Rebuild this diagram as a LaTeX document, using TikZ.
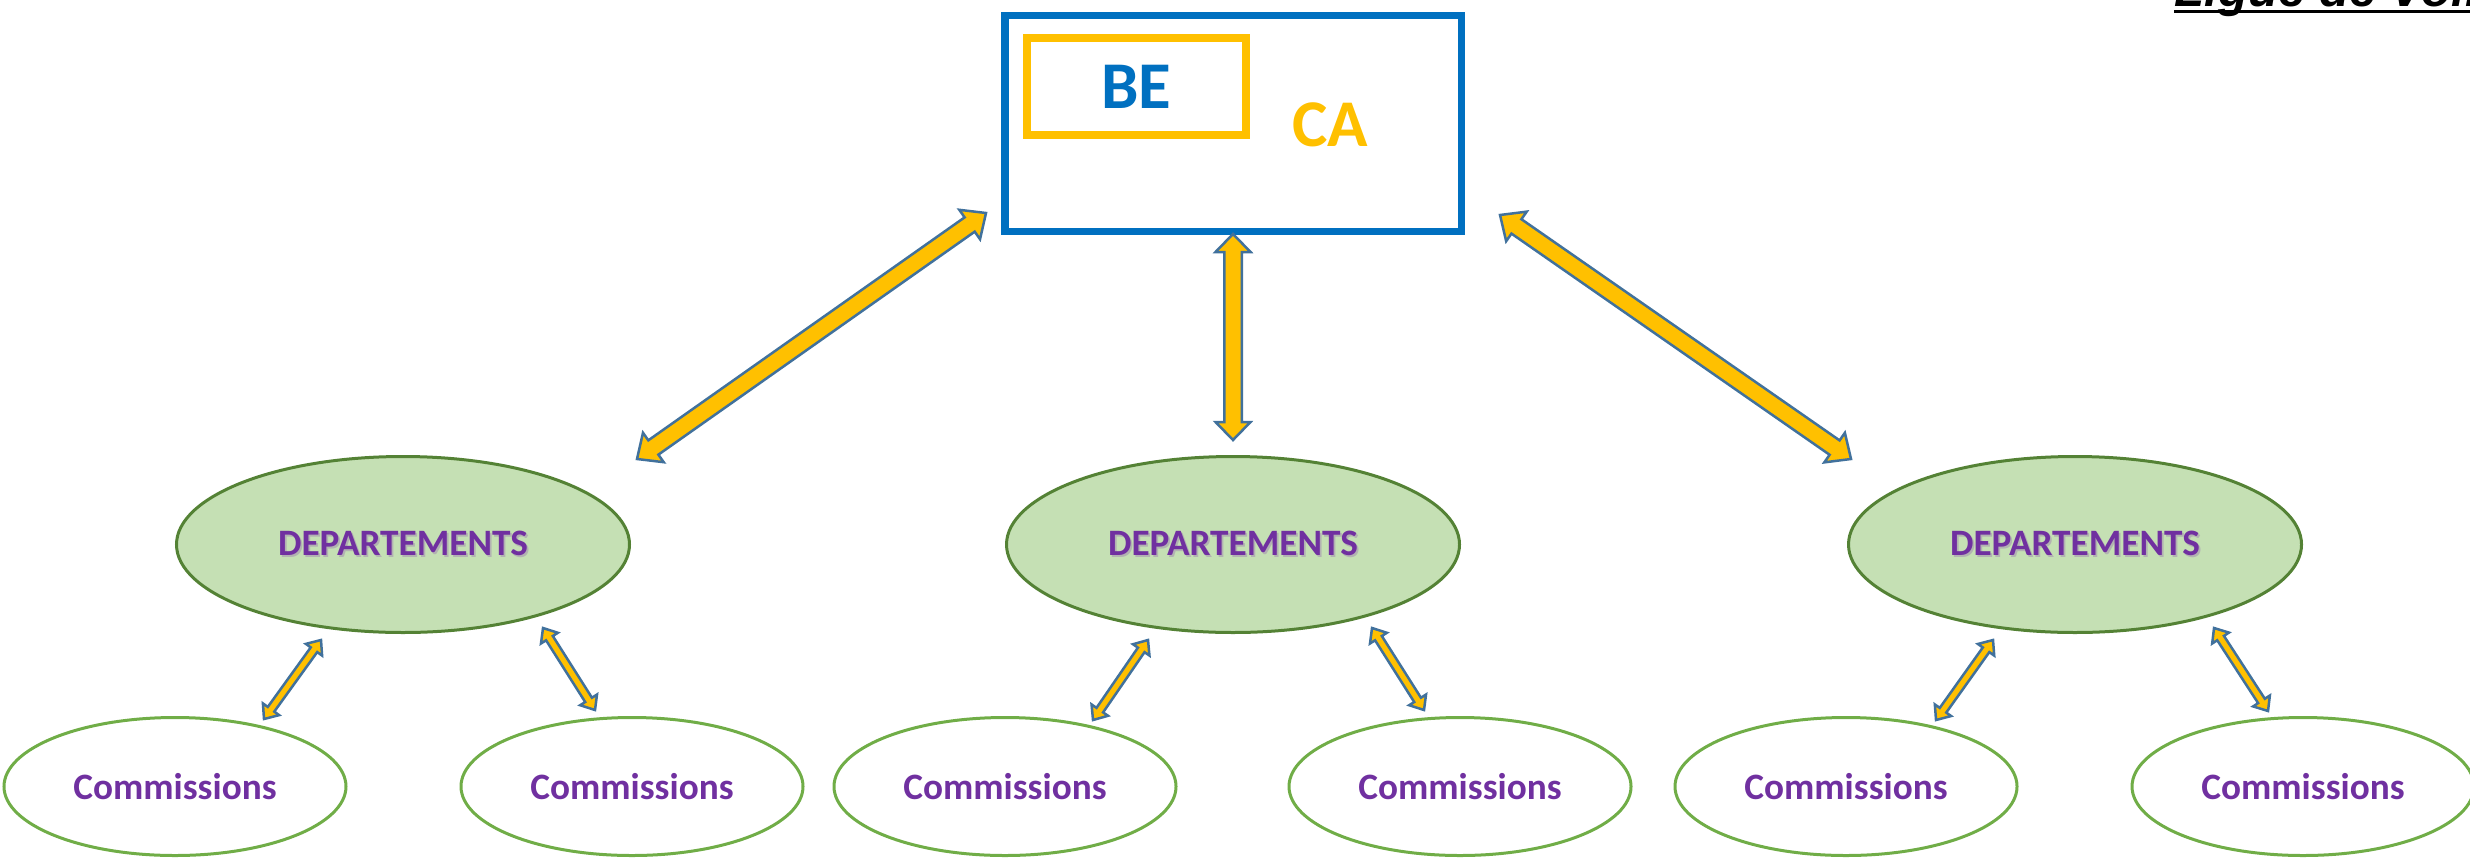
\documentclass[tikz,border=0pt]{standalone}
\usepackage{fontspec}
\setmainfont{Carlito}
\newfontfamily\titrefont{Liberation Sans}
\usetikzlibrary{shapes,calc}

\definecolor{bleuca}{HTML}{0070C0}
\definecolor{jaune}{HTML}{FFC000}
\definecolor{contour}{HTML}{41719C}
\definecolor{vertclair}{HTML}{C5E0B4}
\definecolor{vertfonce}{HTML}{548235}
\definecolor{vertcom}{HTML}{70AD47}
\definecolor{violet}{HTML}{7030A0}

% texte avec ombre grise
\newcommand{\ombre}[1]{\leavevmode\rlap{\kern0.5pt\raisebox{-0.5pt}{\textcolor{black!30}{#1}}}#1}

% double fleche pleine : depart, arrivee, demi-largeur tige, demi-largeur tete, longueur tete
\newcommand{\fleche}[5]{%
  \coordinate (fA) at ($(#1)!#5!(#2)$);
  \coordinate (fB) at ($(#2)!#5!(#1)$);
  \filldraw[fleche] (#1)
    -- ($(fA)!#4!90:(#2)$) -- ($(fA)!#3!90:(#2)$)
    -- ($(fB)!#3!-90:(#1)$) -- ($(fB)!#4!-90:(#1)$)
    -- (#2)
    -- ($(fB)!#4!90:(#1)$) -- ($(fB)!#3!90:(#1)$)
    -- ($(fA)!#3!-90:(#2)$) -- ($(fA)!#4!-90:(#2)$) -- cycle;}

\begin{document}
\begin{tikzpicture}[x=1mm,y=1mm,node distance=42.1mm,
  ca node/.style={rectangle,draw=bleuca,line width=0.75mm,minimum width=45.65mm,minimum height=21.55mm,inner sep=0},
  be node/.style={rectangle,draw=jaune,line width=0.8mm,minimum width=21.9mm,minimum height=9.7mm,inner sep=0,text=bleuca,font=\fontsize{19}{22}\selectfont\bfseries},
  dep node/.style={ellipse,draw=vertfonce,fill=vertclair,line width=0.3mm,minimum width=45.3mm,minimum height=17.6mm,inner sep=0,text=violet,font=\fontsize{10.6}{12}\selectfont\bfseries},
  com node/.style={ellipse,draw=vertcom,line width=0.3mm,minimum width=34.2mm,minimum height=13.8mm,inner sep=0,text=violet,font=\fontsize{10.6}{12}\selectfont\bfseries},
  fleche/.style={fill=jaune,draw=contour,line width=0.25mm,line join=miter}]

  \useasboundingbox (0,0) rectangle (247,-85.8);

  % titre coupe en haut
  \node[anchor=base west,inner sep=0,font=\titrefont\fontsize{14}{16}\selectfont\bfseries\itshape] (titre) at (217.4,-0.7) {Ligue de Volleyball};
  \draw[line width=0.3mm] ([yshift=-0.5mm]titre.base west) -- ([yshift=-0.5mm]titre.base east);

  % CA et BE
  \node[ca node] (ca) at (123.3,-12.35) {};
  \node[be node] (be) at (113.65,-8.65) {BE};
  \node[text=jaune,inner sep=0,font=\fontsize{19}{22}\selectfont\bfseries] (catxt) at (133.0,-12.5) {CA};

  % departements
  \node[dep node] (d2) [below of=ca] {\ombre{DEPARTEMENTS}};
  \node[dep node] (d1) [left of=d2,node distance=83mm] {\ombre{DEPARTEMENTS}};
  \node[dep node] (d3) [right of=d2,node distance=84.2mm] {\ombre{DEPARTEMENTS}};

  % commissions
  \node[com node] (c1) [below of=d1,node distance=24.2mm,xshift=-22.8mm] {Commissions};
  \node[com node] (c2) [below of=d1,node distance=24.2mm,xshift=22.9mm] {Commissions};
  \node[com node] (c3) [below of=d2,node distance=24.2mm,xshift=-22.8mm] {Commissions};
  \node[com node] (c4) [below of=d2,node distance=24.2mm,xshift=22.7mm] {Commissions};
  \node[com node] (c5) [below of=d3,node distance=24.2mm,xshift=-22.9mm] {Commissions};
  \node[com node] (c6) [below of=d3,node distance=24.2mm,xshift=22.8mm] {Commissions};

  % bouts des fleches
  \coordinate (h1) at (98.6,-21.3);   \coordinate (b1) at (63.7,-45.9);
  \coordinate (h2) at (123.3,-23.4);  \coordinate (b2) at (123.3,-44.0);
  \coordinate (h3) at (150.0,-21.5);  \coordinate (b3) at (185.1,-45.9);
  \coordinate (s1) at (32.1,-64.0);   \coordinate (t1) at (26.4,-71.9);
  \coordinate (s2) at (54.3,-62.8);   \coordinate (t2) at (59.5,-71.0);
  \coordinate (s3) at (114.8,-64.0);  \coordinate (t3) at (109.3,-72.0);
  \coordinate (s4) at (137.2,-62.8);  \coordinate (t4) at (142.4,-71.0);
  \coordinate (s5) at (199.3,-64.0);  \coordinate (t5) at (193.6,-72.0);
  \coordinate (s6) at (221.4,-62.8);  \coordinate (t6) at (226.8,-71.1);

  \fleche{h1}{b1}{0.875mm}{1.8mm}{2mm}
  \fleche{h2}{b2}{0.875mm}{1.75mm}{1.8mm}
  \fleche{h3}{b3}{0.875mm}{1.8mm}{2mm}
  \fleche{s1}{t1}{0.4mm}{1mm}{1.2mm}
  \fleche{s2}{t2}{0.4mm}{1mm}{1.2mm}
  \fleche{s3}{t3}{0.4mm}{1mm}{1.2mm}
  \fleche{s4}{t4}{0.4mm}{1mm}{1.2mm}
  \fleche{s5}{t5}{0.4mm}{1mm}{1.2mm}
  \fleche{s6}{t6}{0.4mm}{1mm}{1.2mm}
\end{tikzpicture}
\end{document}
